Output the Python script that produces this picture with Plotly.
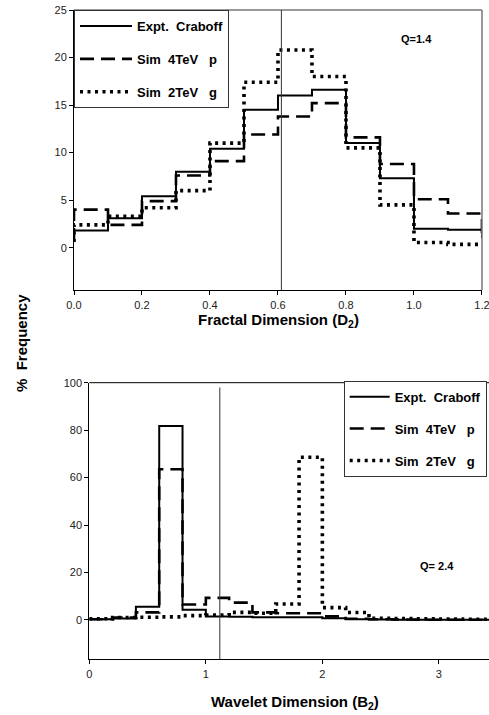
import plotly.graph_objects as go

# ---------------- data ----------------
# Top panel: Fractal dimension D2, bins of width 0.1 from 0 to 1.2
d2_edges = [0.0, 0.1, 0.2, 0.3, 0.4, 0.5, 0.6, 0.7, 0.8, 0.9, 1.0, 1.1, 1.2]
d2_expt = [1.8, 3.1, 5.4, 8.0, 10.4, 14.5, 16.0, 16.6, 11.0, 7.3, 2.0, 1.9]
d2_sim_p = [4.0, 2.4, 4.9, 7.6, 9.1, 11.9, 13.8, 15.2, 11.6, 8.8, 5.1, 3.6]
d2_sim_g = [2.4, 3.3, 4.2, 6.0, 11.0, 17.4, 20.8, 18.0, 10.5, 4.5, 0.55, 0.35]
d2_start = [0.6, 0.6, 0.6]   # level where each curve starts at x=0
d2_end = [1.0, 1.0, 0.35]    # level where each curve ends at x=1.2
d2_vline = 0.61
d2_yticks = [0, 5, 10, 15, 20, 25]
d2_xticks = [0.0, 0.2, 0.4, 0.6, 0.8, 1.0, 1.2]

# Bottom panel: Wavelet dimension B2, bins of width 0.2
b2_edges = [0.0, 0.2, 0.4, 0.6, 0.8, 1.0, 1.2, 1.4, 1.6, 1.8, 2.0, 2.2, 2.4,
            2.6, 2.8, 3.0, 3.2, 3.4, 3.6]
b2_expt = [0.3, 0.6, 5.6, 81.7, 4.3, 1.4, 1.3, 1.1, 1.1, 1.1, 0.7, 0.3,
           0.2, 0.1, 0.1, 0.1, 0.1, 0.1]
b2_sim_p = [0.3, 1.0, 3.2, 63.5, 6.5, 9.3, 7.3, 3.2, 2.8, 2.8, 1.5, 0.5,
            0.3, 0.2, 0.1, 0.1, 0.1, 0.1]
b2_sim_g = [0.5, 1.0, 1.1, 1.3, 1.8, 2.1, 3.2, 2.8, 6.7, 68.6, 5.2, 3.1,
            0.7, 0.6, 0.5, 0.4, 0.3, 0.3]
b2_vline = 1.12
b2_vline_top = 98
b2_yticks = [0, 20, 40, 60, 80, 100]
b2_xticks = [0, 1, 2, 3]

names = ["Expt.\u00a0\u00a0Craboff", "Sim\u00a0\u00a04TeV\u00a0\u00a0\u00a0p",
         "Sim\u00a0\u00a02TeV\u00a0\u00a0\u00a0g"]

# ---------------- styles ----------------
FONT = "Arial, Liberation Sans, Helvetica, sans-serif"
styles = [
    dict(color="black", width=2, dash="solid"),
    dict(color="black", width=2.6, dash="14px,7px"),
    dict(color="black", width=3.6, dash="3px,4.5px"),
]

fig = go.Figure()


def step_xy(edges, vals, start, end):
    xs = [edges[0]] + list(edges)
    ys = [start] + list(vals) + [vals[-1]]
    if end is not None:
        xs = xs + [edges[-1]]
        ys = ys + [end]
    return xs, ys


for i, vals in enumerate([d2_expt, d2_sim_p, d2_sim_g]):
    xs, ys = step_xy(d2_edges, vals, d2_start[i], d2_end[i])
    fig.add_trace(go.Scatter(
        x=xs, y=ys, mode="lines", line_shape="hv", line=styles[i],
        name=names[i], legend="legend", legendgroup="a%d" % i,
        xaxis="x", yaxis="y"))

for i, vals in enumerate([b2_expt, b2_sim_p, b2_sim_g]):
    xs = list(b2_edges)
    ys = list(vals) + [vals[-1]]
    fig.add_trace(go.Scatter(
        x=xs, y=ys, mode="lines", line_shape="hv", line=styles[i],
        name=names[i], legend="legend2", legendgroup="b%d" % i,
        xaxis="x2", yaxis="y2"))

W, H = 489, 715


def px_x(p):
    return p / W


def px_y(p):
    return 1 - p / H


axis_common = dict(showline=True, linecolor="black", linewidth=1,
                   ticks="outside", ticklen=4, tickcolor="black",
                   showgrid=False, zeroline=False, automargin=False,
                   ticklabeloverflow="allow",
                   tickfont=dict(family=FONT, size=11, color="#222"))

fig.update_layout(
    width=W, height=H,
    margin=dict(l=0, r=0, t=0, b=0),
    paper_bgcolor="white", plot_bgcolor="white",
    font=dict(family=FONT, color="black"),
    xaxis=dict(domain=[px_x(74), px_x(482)], range=[0, 1.2001],
               tickvals=d2_xticks, tickformat=".1f", anchor="y",
               ticklabelstandoff=1, **axis_common),
    yaxis=dict(domain=[px_y(290), px_y(10)], range=[-4.45, 25],
               tickvals=d2_yticks, anchor="x", **axis_common),
    xaxis2=dict(domain=[px_x(89.3), 1.0], range=[0, 3.43],
                tickvals=b2_xticks, anchor="y2", **axis_common),
    yaxis2=dict(domain=[px_y(659.3), px_y(382.7)], range=[-16.6, 100],
                tickvals=b2_yticks, anchor="x2", **axis_common),
    legend=dict(x=px_x(74), y=px_y(10), xanchor="left", yanchor="top",
                bgcolor="white", bordercolor="#333", borderwidth=1,
                itemwidth=52,
                font=dict(family=FONT, size=13, color="black", weight="bold"),
                traceorder="grouped", tracegroupgap=13),
    legend2=dict(x=px_x(343.7), y=px_y(380.7), xanchor="left", yanchor="top",
                 bgcolor="white", bordercolor="#333", borderwidth=1,
                 itemwidth=40,
                 font=dict(family=FONT, size=13, color="black", weight="bold"),
                 traceorder="grouped", tracegroupgap=12),
    showlegend=True,
)

shapes = [
    # top panel frame (top & right), grey
    dict(type="line", xref="x domain", yref="y domain", x0=0, x1=1, y0=1, y1=1,
         line=dict(color="#777", width=1.5)),
    dict(type="line", xref="x domain", yref="y domain", x0=1, x1=1, y0=0, y1=1,
         line=dict(color="#777", width=1.5)),
    # bottom panel top border
    dict(type="line", xref="x2 domain", yref="y2 domain", x0=0, x1=1, y0=1, y1=1,
         line=dict(color="black", width=1)),
    # vertical reference lines
    dict(type="line", xref="x", yref="y", x0=d2_vline, x1=d2_vline,
         y0=-4.45, y1=25, line=dict(color="#333", width=1)),
    dict(type="line", xref="x2", yref="y2", x0=b2_vline, x1=b2_vline,
         y0=-16.6, y1=b2_vline_top, line=dict(color="#333", width=1)),
]
fig.update_layout(shapes=shapes)

annotations = [
    dict(text="<b>Q=1.4</b>", x=1.008, y=22.0, xref="x", yref="y",
         showarrow=False, font=dict(family=FONT, size=11, color="black")),
    dict(text="<b>Q= 2.4</b>", x=2.98, y=22.8, xref="x2", yref="y2",
         showarrow=False, font=dict(family=FONT, size=11, color="black")),
    dict(text="<b>Fractal Dimension (D<sub>2</sub>)</b>", x=px_x(278),
         y=px_y(309), xref="paper", yref="paper", showarrow=False,
         xanchor="center", yanchor="top",
         font=dict(family=FONT, size=15, color="black")),
    dict(text="<b>Wavelet Dimension (B<sub>2</sub>)</b>", x=px_x(295),
         y=px_y(702), xref="paper", yref="paper", showarrow=False,
         xanchor="center", yanchor="middle",
         font=dict(family=FONT, size=15, color="black")),
    dict(text="<b>%\u00a0\u00a0Frequency</b>", x=px_x(21), y=px_y(343),
         xref="paper", yref="paper", showarrow=False, textangle=-90,
         xanchor="center", yanchor="middle",
         font=dict(family=FONT, size=15, color="black")),
]
fig.update_layout(annotations=annotations)

fig.write_html("out.html",
               config={"displayModeBar": False},
               post_script="document.body.style.margin='0';"
                           "document.body.style.overflow='hidden';")
